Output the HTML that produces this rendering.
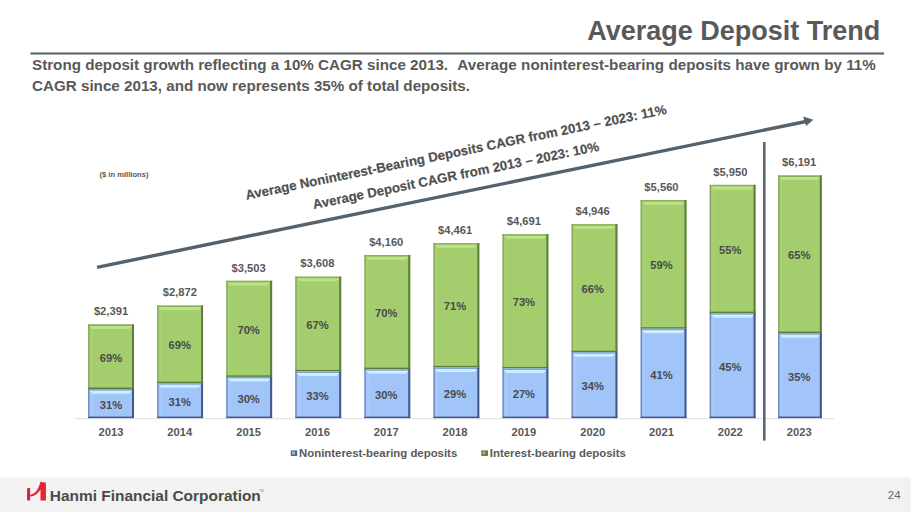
<!DOCTYPE html>
<html><head><meta charset="utf-8"><style>
html,body{margin:0;padding:0;background:#fff;}
body{width:911px;height:512px;overflow:hidden;position:relative;font-family:"Liberation Sans",sans-serif;}
svg{position:absolute;left:0;top:0;}
text{font-family:"Liberation Sans",sans-serif;font-weight:bold;}
.val,.pct,.yr{font-size:11.2px;text-anchor:middle;fill:#595959;}
.pct{fill:#4a4a4a;}
.rot{font-size:13.25px;fill:#505050;stroke:#505050;stroke-width:0.2px;}
.mil{font-size:7.6px;fill:#595959;}
.leg{font-size:11.4px;fill:#595959;}
</style></head><body>
<svg width="911" height="512" viewBox="0 0 911 512">
<rect x="0" y="477.3" width="911" height="34.7" fill="#f2f2f2"/>
<text x="880.3" y="40" style="font-size:27px;fill:#595959;text-anchor:end">Average Deposit Trend</text>
<rect x="30.5" y="52.4" width="853.5" height="2.2" fill="#606a6a"/>
<text x="32" y="70.2" style="font-size:15.2px;fill:#595959">Strong deposit growth reflecting a 10% CAGR since 2013.</text>
<text x="457.3" y="70.2" style="font-size:15.2px;fill:#595959" textLength="418.5" lengthAdjust="spacing">Average noninterest-bearing deposits have grown by 11%</text>
<text x="32" y="90.5" style="font-size:15.2px;fill:#595959">CAGR since 2013, and now represents 35% of total deposits.</text>
<rect x="75" y="418" width="759" height="1.3" fill="#e6e6e6"/>
<rect x="88.20" y="324.37" width="45.80" height="64.67" fill="#a4cd6e"/>
<rect x="90.40" y="326.37" width="2.6" height="61.17" fill="#a7d072"/>
<rect x="88.20" y="324.37" width="45.80" height="1.6" fill="#8cac62"/>
<polygon points="89.40,325.97 132.20,325.97 129.50,328.97 92.40,328.97" fill="#bde389"/>
<rect x="88.20" y="324.37" width="1.2" height="64.67" fill="#86a45e"/>
<rect x="132.00" y="324.37" width="2" height="64.67" fill="#5f7c3e"/>
<rect x="88.20" y="387.54" width="45.80" height="1.5" fill="#5f7c3e"/>
<rect x="88.20" y="389.04" width="45.80" height="29.06" fill="#a1c4f9"/>
<rect x="90.40" y="391.04" width="2.6" height="25.56" fill="#a5cafb"/>
<rect x="88.20" y="389.04" width="45.80" height="1.6" fill="#8aa4d0"/>
<polygon points="89.40,390.64 132.20,390.64 129.50,393.64 92.40,393.64" fill="#c8f1ff"/>
<rect x="88.20" y="389.04" width="1.2" height="29.06" fill="#6a80b0"/>
<rect x="132.00" y="389.04" width="2" height="29.06" fill="#44578a"/>
<rect x="88.20" y="416.60" width="45.80" height="1.5" fill="#44578a"/>
<text x="111.00" y="315.17" class="val">$2,391</text>
<text x="111.00" y="361.71" class="pct">69%</text>
<text x="111.00" y="408.77" class="pct">31%</text>
<text x="111.00" y="436.4" class="yr">2013</text>
<rect x="157.26" y="305.52" width="45.80" height="77.68" fill="#a4cd6e"/>
<rect x="159.46" y="307.52" width="2.6" height="74.18" fill="#a7d072"/>
<rect x="157.26" y="305.52" width="45.80" height="1.6" fill="#8cac62"/>
<polygon points="158.46,307.12 201.26,307.12 198.56,310.12 161.46,310.12" fill="#bde389"/>
<rect x="157.26" y="305.52" width="1.2" height="77.68" fill="#86a45e"/>
<rect x="201.06" y="305.52" width="2" height="77.68" fill="#5f7c3e"/>
<rect x="157.26" y="381.70" width="45.80" height="1.5" fill="#5f7c3e"/>
<rect x="157.26" y="383.20" width="45.80" height="34.90" fill="#a1c4f9"/>
<rect x="159.46" y="385.20" width="2.6" height="31.40" fill="#a5cafb"/>
<rect x="157.26" y="383.20" width="45.80" height="1.6" fill="#8aa4d0"/>
<polygon points="158.46,384.80 201.26,384.80 198.56,387.80 161.46,387.80" fill="#c8f1ff"/>
<rect x="157.26" y="383.20" width="1.2" height="34.90" fill="#6a80b0"/>
<rect x="201.06" y="383.20" width="2" height="34.90" fill="#44578a"/>
<rect x="157.26" y="416.60" width="45.80" height="1.5" fill="#44578a"/>
<text x="179.81" y="296.32" class="val">$2,872</text>
<text x="179.81" y="349.36" class="pct">69%</text>
<text x="179.81" y="405.85" class="pct">31%</text>
<text x="179.81" y="436.4" class="yr">2014</text>
<rect x="226.32" y="280.78" width="45.80" height="96.12" fill="#a4cd6e"/>
<rect x="228.52" y="282.78" width="2.6" height="92.62" fill="#a7d072"/>
<rect x="226.32" y="280.78" width="45.80" height="1.6" fill="#8cac62"/>
<polygon points="227.52,282.38 270.32,282.38 267.62,285.38 230.52,285.38" fill="#bde389"/>
<rect x="226.32" y="280.78" width="1.2" height="96.12" fill="#86a45e"/>
<rect x="270.12" y="280.78" width="2" height="96.12" fill="#5f7c3e"/>
<rect x="226.32" y="375.40" width="45.80" height="1.5" fill="#5f7c3e"/>
<rect x="226.32" y="376.90" width="45.80" height="41.20" fill="#a1c4f9"/>
<rect x="228.52" y="378.90" width="2.6" height="37.70" fill="#a5cafb"/>
<rect x="226.32" y="376.90" width="45.80" height="1.6" fill="#8aa4d0"/>
<polygon points="227.52,378.50 270.32,378.50 267.62,381.50 230.52,381.50" fill="#c8f1ff"/>
<rect x="226.32" y="376.90" width="1.2" height="41.20" fill="#6a80b0"/>
<rect x="270.12" y="376.90" width="2" height="41.20" fill="#44578a"/>
<rect x="226.32" y="416.60" width="45.80" height="1.5" fill="#44578a"/>
<text x="248.62" y="271.58" class="val">$3,503</text>
<text x="248.62" y="333.84" class="pct">70%</text>
<text x="248.62" y="402.70" class="pct">30%</text>
<text x="248.62" y="436.4" class="yr">2015</text>
<rect x="295.38" y="276.67" width="45.80" height="94.76" fill="#a4cd6e"/>
<rect x="297.58" y="278.67" width="2.6" height="91.26" fill="#a7d072"/>
<rect x="295.38" y="276.67" width="45.80" height="1.6" fill="#8cac62"/>
<polygon points="296.58,278.27 339.38,278.27 336.68,281.27 299.58,281.27" fill="#bde389"/>
<rect x="295.38" y="276.67" width="1.2" height="94.76" fill="#86a45e"/>
<rect x="339.18" y="276.67" width="2" height="94.76" fill="#5f7c3e"/>
<rect x="295.38" y="369.93" width="45.80" height="1.5" fill="#5f7c3e"/>
<rect x="295.38" y="371.43" width="45.80" height="46.67" fill="#a1c4f9"/>
<rect x="297.58" y="373.43" width="2.6" height="43.17" fill="#a5cafb"/>
<rect x="295.38" y="371.43" width="45.80" height="1.6" fill="#8aa4d0"/>
<polygon points="296.58,373.03 339.38,373.03 336.68,376.03 299.58,376.03" fill="#c8f1ff"/>
<rect x="295.38" y="371.43" width="1.2" height="46.67" fill="#6a80b0"/>
<rect x="339.18" y="371.43" width="2" height="46.67" fill="#44578a"/>
<rect x="295.38" y="416.60" width="45.80" height="1.5" fill="#44578a"/>
<text x="317.43" y="267.47" class="val">$3,608</text>
<text x="317.43" y="329.05" class="pct">67%</text>
<text x="317.43" y="399.96" class="pct">33%</text>
<text x="317.43" y="436.4" class="yr">2016</text>
<rect x="364.44" y="255.03" width="45.80" height="114.15" fill="#a4cd6e"/>
<rect x="366.64" y="257.03" width="2.6" height="110.65" fill="#a7d072"/>
<rect x="364.44" y="255.03" width="45.80" height="1.6" fill="#8cac62"/>
<polygon points="365.64,256.63 408.44,256.63 405.74,259.63 368.64,259.63" fill="#bde389"/>
<rect x="364.44" y="255.03" width="1.2" height="114.15" fill="#86a45e"/>
<rect x="408.24" y="255.03" width="2" height="114.15" fill="#5f7c3e"/>
<rect x="364.44" y="367.68" width="45.80" height="1.5" fill="#5f7c3e"/>
<rect x="364.44" y="369.18" width="45.80" height="48.92" fill="#a1c4f9"/>
<rect x="366.64" y="371.18" width="2.6" height="45.42" fill="#a5cafb"/>
<rect x="364.44" y="369.18" width="45.80" height="1.6" fill="#8aa4d0"/>
<polygon points="365.64,370.78 408.44,370.78 405.74,373.78 368.64,373.78" fill="#c8f1ff"/>
<rect x="364.44" y="369.18" width="1.2" height="48.92" fill="#6a80b0"/>
<rect x="408.24" y="369.18" width="2" height="48.92" fill="#44578a"/>
<rect x="364.44" y="416.60" width="45.80" height="1.5" fill="#44578a"/>
<text x="386.24" y="245.83" class="val">$4,160</text>
<text x="386.24" y="317.10" class="pct">70%</text>
<text x="386.24" y="398.84" class="pct">30%</text>
<text x="386.24" y="436.4" class="yr">2017</text>
<rect x="433.50" y="243.23" width="45.80" height="124.16" fill="#a4cd6e"/>
<rect x="435.70" y="245.23" width="2.6" height="120.66" fill="#a7d072"/>
<rect x="433.50" y="243.23" width="45.80" height="1.6" fill="#8cac62"/>
<polygon points="434.70,244.83 477.50,244.83 474.80,247.83 437.70,247.83" fill="#bde389"/>
<rect x="433.50" y="243.23" width="1.2" height="124.16" fill="#86a45e"/>
<rect x="477.30" y="243.23" width="2" height="124.16" fill="#5f7c3e"/>
<rect x="433.50" y="365.89" width="45.80" height="1.5" fill="#5f7c3e"/>
<rect x="433.50" y="367.39" width="45.80" height="50.71" fill="#a1c4f9"/>
<rect x="435.70" y="369.39" width="2.6" height="47.21" fill="#a5cafb"/>
<rect x="433.50" y="367.39" width="45.80" height="1.6" fill="#8aa4d0"/>
<polygon points="434.70,368.99 477.50,368.99 474.80,371.99 437.70,371.99" fill="#c8f1ff"/>
<rect x="433.50" y="367.39" width="1.2" height="50.71" fill="#6a80b0"/>
<rect x="477.30" y="367.39" width="2" height="50.71" fill="#44578a"/>
<rect x="433.50" y="416.60" width="45.80" height="1.5" fill="#44578a"/>
<text x="455.05" y="234.03" class="val">$4,461</text>
<text x="455.05" y="310.31" class="pct">71%</text>
<text x="455.05" y="397.94" class="pct">29%</text>
<text x="455.05" y="436.4" class="yr">2018</text>
<rect x="502.56" y="234.21" width="45.80" height="134.24" fill="#a4cd6e"/>
<rect x="504.76" y="236.21" width="2.6" height="130.74" fill="#a7d072"/>
<rect x="502.56" y="234.21" width="45.80" height="1.6" fill="#8cac62"/>
<polygon points="503.76,235.81 546.56,235.81 543.86,238.81 506.76,238.81" fill="#bde389"/>
<rect x="502.56" y="234.21" width="1.2" height="134.24" fill="#86a45e"/>
<rect x="546.36" y="234.21" width="2" height="134.24" fill="#5f7c3e"/>
<rect x="502.56" y="366.95" width="45.80" height="1.5" fill="#5f7c3e"/>
<rect x="502.56" y="368.45" width="45.80" height="49.65" fill="#a1c4f9"/>
<rect x="504.76" y="370.45" width="2.6" height="46.15" fill="#a5cafb"/>
<rect x="502.56" y="368.45" width="45.80" height="1.6" fill="#8aa4d0"/>
<polygon points="503.76,370.05 546.56,370.05 543.86,373.05 506.76,373.05" fill="#c8f1ff"/>
<rect x="502.56" y="368.45" width="1.2" height="49.65" fill="#6a80b0"/>
<rect x="546.36" y="368.45" width="2" height="49.65" fill="#44578a"/>
<rect x="502.56" y="416.60" width="45.80" height="1.5" fill="#44578a"/>
<text x="523.86" y="225.01" class="val">$4,691</text>
<text x="523.86" y="306.33" class="pct">73%</text>
<text x="523.86" y="398.48" class="pct">27%</text>
<text x="523.86" y="436.4" class="yr">2019</text>
<rect x="571.62" y="224.22" width="45.80" height="127.96" fill="#a4cd6e"/>
<rect x="573.82" y="226.22" width="2.6" height="124.46" fill="#a7d072"/>
<rect x="571.62" y="224.22" width="45.80" height="1.6" fill="#8cac62"/>
<polygon points="572.82,225.82 615.62,225.82 612.92,228.82 575.82,228.82" fill="#bde389"/>
<rect x="571.62" y="224.22" width="1.2" height="127.96" fill="#86a45e"/>
<rect x="615.42" y="224.22" width="2" height="127.96" fill="#5f7c3e"/>
<rect x="571.62" y="350.68" width="45.80" height="1.5" fill="#5f7c3e"/>
<rect x="571.62" y="352.18" width="45.80" height="65.92" fill="#a1c4f9"/>
<rect x="573.82" y="354.18" width="2.6" height="62.42" fill="#a5cafb"/>
<rect x="571.62" y="352.18" width="45.80" height="1.6" fill="#8aa4d0"/>
<polygon points="572.82,353.78 615.62,353.78 612.92,356.78 575.82,356.78" fill="#c8f1ff"/>
<rect x="571.62" y="352.18" width="1.2" height="65.92" fill="#6a80b0"/>
<rect x="615.42" y="352.18" width="2" height="65.92" fill="#44578a"/>
<rect x="571.62" y="416.60" width="45.80" height="1.5" fill="#44578a"/>
<text x="592.67" y="215.02" class="val">$4,946</text>
<text x="592.67" y="293.20" class="pct">66%</text>
<text x="592.67" y="390.34" class="pct">34%</text>
<text x="592.67" y="436.4" class="yr">2020</text>
<rect x="640.68" y="200.15" width="45.80" height="128.59" fill="#a4cd6e"/>
<rect x="642.88" y="202.15" width="2.6" height="125.09" fill="#a7d072"/>
<rect x="640.68" y="200.15" width="45.80" height="1.6" fill="#8cac62"/>
<polygon points="641.88,201.75 684.68,201.75 681.98,204.75 644.88,204.75" fill="#bde389"/>
<rect x="640.68" y="200.15" width="1.2" height="128.59" fill="#86a45e"/>
<rect x="684.48" y="200.15" width="2" height="128.59" fill="#5f7c3e"/>
<rect x="640.68" y="327.24" width="45.80" height="1.5" fill="#5f7c3e"/>
<rect x="640.68" y="328.74" width="45.80" height="89.36" fill="#a1c4f9"/>
<rect x="642.88" y="330.74" width="2.6" height="85.86" fill="#a5cafb"/>
<rect x="640.68" y="328.74" width="45.80" height="1.6" fill="#8aa4d0"/>
<polygon points="641.88,330.34 684.68,330.34 681.98,333.34 644.88,333.34" fill="#c8f1ff"/>
<rect x="640.68" y="328.74" width="1.2" height="89.36" fill="#6a80b0"/>
<rect x="684.48" y="328.74" width="2" height="89.36" fill="#44578a"/>
<rect x="640.68" y="416.60" width="45.80" height="1.5" fill="#44578a"/>
<text x="661.48" y="190.95" class="val">$5,560</text>
<text x="661.48" y="269.44" class="pct">59%</text>
<text x="661.48" y="378.62" class="pct">41%</text>
<text x="661.48" y="436.4" class="yr">2021</text>
<rect x="709.74" y="184.86" width="45.80" height="128.28" fill="#a4cd6e"/>
<rect x="711.94" y="186.86" width="2.6" height="124.78" fill="#a7d072"/>
<rect x="709.74" y="184.86" width="45.80" height="1.6" fill="#8cac62"/>
<polygon points="710.94,186.46 753.74,186.46 751.04,189.46 713.94,189.46" fill="#bde389"/>
<rect x="709.74" y="184.86" width="1.2" height="128.28" fill="#86a45e"/>
<rect x="753.54" y="184.86" width="2" height="128.28" fill="#5f7c3e"/>
<rect x="709.74" y="311.64" width="45.80" height="1.5" fill="#5f7c3e"/>
<rect x="709.74" y="313.14" width="45.80" height="104.96" fill="#a1c4f9"/>
<rect x="711.94" y="315.14" width="2.6" height="101.46" fill="#a5cafb"/>
<rect x="709.74" y="313.14" width="45.80" height="1.6" fill="#8aa4d0"/>
<polygon points="710.94,314.74 753.74,314.74 751.04,317.74 713.94,317.74" fill="#c8f1ff"/>
<rect x="709.74" y="313.14" width="1.2" height="104.96" fill="#6a80b0"/>
<rect x="753.54" y="313.14" width="2" height="104.96" fill="#44578a"/>
<rect x="709.74" y="416.60" width="45.80" height="1.5" fill="#44578a"/>
<text x="730.29" y="175.66" class="val">$5,950</text>
<text x="730.29" y="254.00" class="pct">55%</text>
<text x="730.29" y="370.82" class="pct">45%</text>
<text x="730.29" y="436.4" class="yr">2022</text>
<rect x="778.20" y="175.41" width="43.60" height="157.75" fill="#a4cd6e"/>
<rect x="780.40" y="177.41" width="2.6" height="154.25" fill="#a7d072"/>
<rect x="778.20" y="175.41" width="43.60" height="1.6" fill="#8cac62"/>
<polygon points="779.40,177.01 820.00,177.01 817.30,180.01 782.40,180.01" fill="#bde389"/>
<rect x="778.20" y="175.41" width="1.2" height="157.75" fill="#86a45e"/>
<rect x="819.80" y="175.41" width="2" height="157.75" fill="#5f7c3e"/>
<rect x="778.20" y="331.66" width="43.60" height="1.5" fill="#5f7c3e"/>
<rect x="778.20" y="333.16" width="43.60" height="84.94" fill="#a1c4f9"/>
<rect x="780.40" y="335.16" width="2.6" height="81.44" fill="#a5cafb"/>
<rect x="778.20" y="333.16" width="43.60" height="1.6" fill="#8aa4d0"/>
<polygon points="779.40,334.76 820.00,334.76 817.30,337.76 782.40,337.76" fill="#c8f1ff"/>
<rect x="778.20" y="333.16" width="1.2" height="84.94" fill="#6a80b0"/>
<rect x="819.80" y="333.16" width="2" height="84.94" fill="#44578a"/>
<rect x="778.20" y="416.60" width="43.60" height="1.5" fill="#44578a"/>
<text x="799.20" y="166.21" class="val">$6,191</text>
<text x="799.20" y="259.29" class="pct">65%</text>
<text x="799.20" y="380.83" class="pct">35%</text>
<text x="799.20" y="436.4" class="yr">2023</text>
<rect x="763" y="142" width="2.6" height="298.6" fill="#5b6672"/>
<line x1="97" y1="267.3" x2="806" y2="121.5" stroke="#55616b" stroke-width="3.4"/>
<polygon points="813.3,119.8 803.1,116.6 806.2,126" fill="#55616b"/>
<text x="246.4" y="199.7" class="rot" transform="rotate(-11.55 246.4 199.7)">Average Noninterest-Bearing Deposits CAGR from 2013 – 2023: 11%</text>
<text x="313.8" y="209.0" class="rot" transform="rotate(-11.55 313.8 209.0)">Average Deposit CAGR from 2013 – 2023: 10%</text>
<text x="99.5" y="177.3" class="mil">($ in millions)</text>
<rect x="290.8" y="450.4" width="6.4" height="5.6" fill="#51678f"/><rect x="292" y="451.5" width="3" height="3" fill="#9ab8e8"/>
<text x="299" y="456.6" class="leg">Noninterest-bearing deposits</text>
<rect x="481.3" y="450.4" width="6.6" height="5.5" fill="#5a733e"/><rect x="482.6" y="451.5" width="2.8" height="2.8" fill="#9fbf78"/>
<text x="489.8" y="456.6" class="leg">Interest-bearing deposits</text>
<g>
<path d="M27.1,488.3 L30.1,488 L30.1,500.6 L27.1,500.6 Z" fill="#d61f3c"/>
<path d="M30.1,494.8 C34,494.3 37.8,491.5 40.5,481.8 L45.9,482.8 L45.9,500.6 L40.5,500.6 L40.5,489.5 C38.2,493.6 34.5,496.2 30.1,496.6 Z" fill="#e8222e"/>
</g>
<text x="49.8" y="500.8" style="font-size:15.45px;fill:#4a4a4a;font-weight:bold">Hanmi Financial Corporation</text>
<text x="259.3" y="491.5" style="font-size:3px;fill:#888;font-weight:normal">TM</text>
<text x="900.5" y="499" style="font-size:11.4px;fill:#666;font-weight:normal;text-anchor:end">24</text>
</svg>
</body></html>
